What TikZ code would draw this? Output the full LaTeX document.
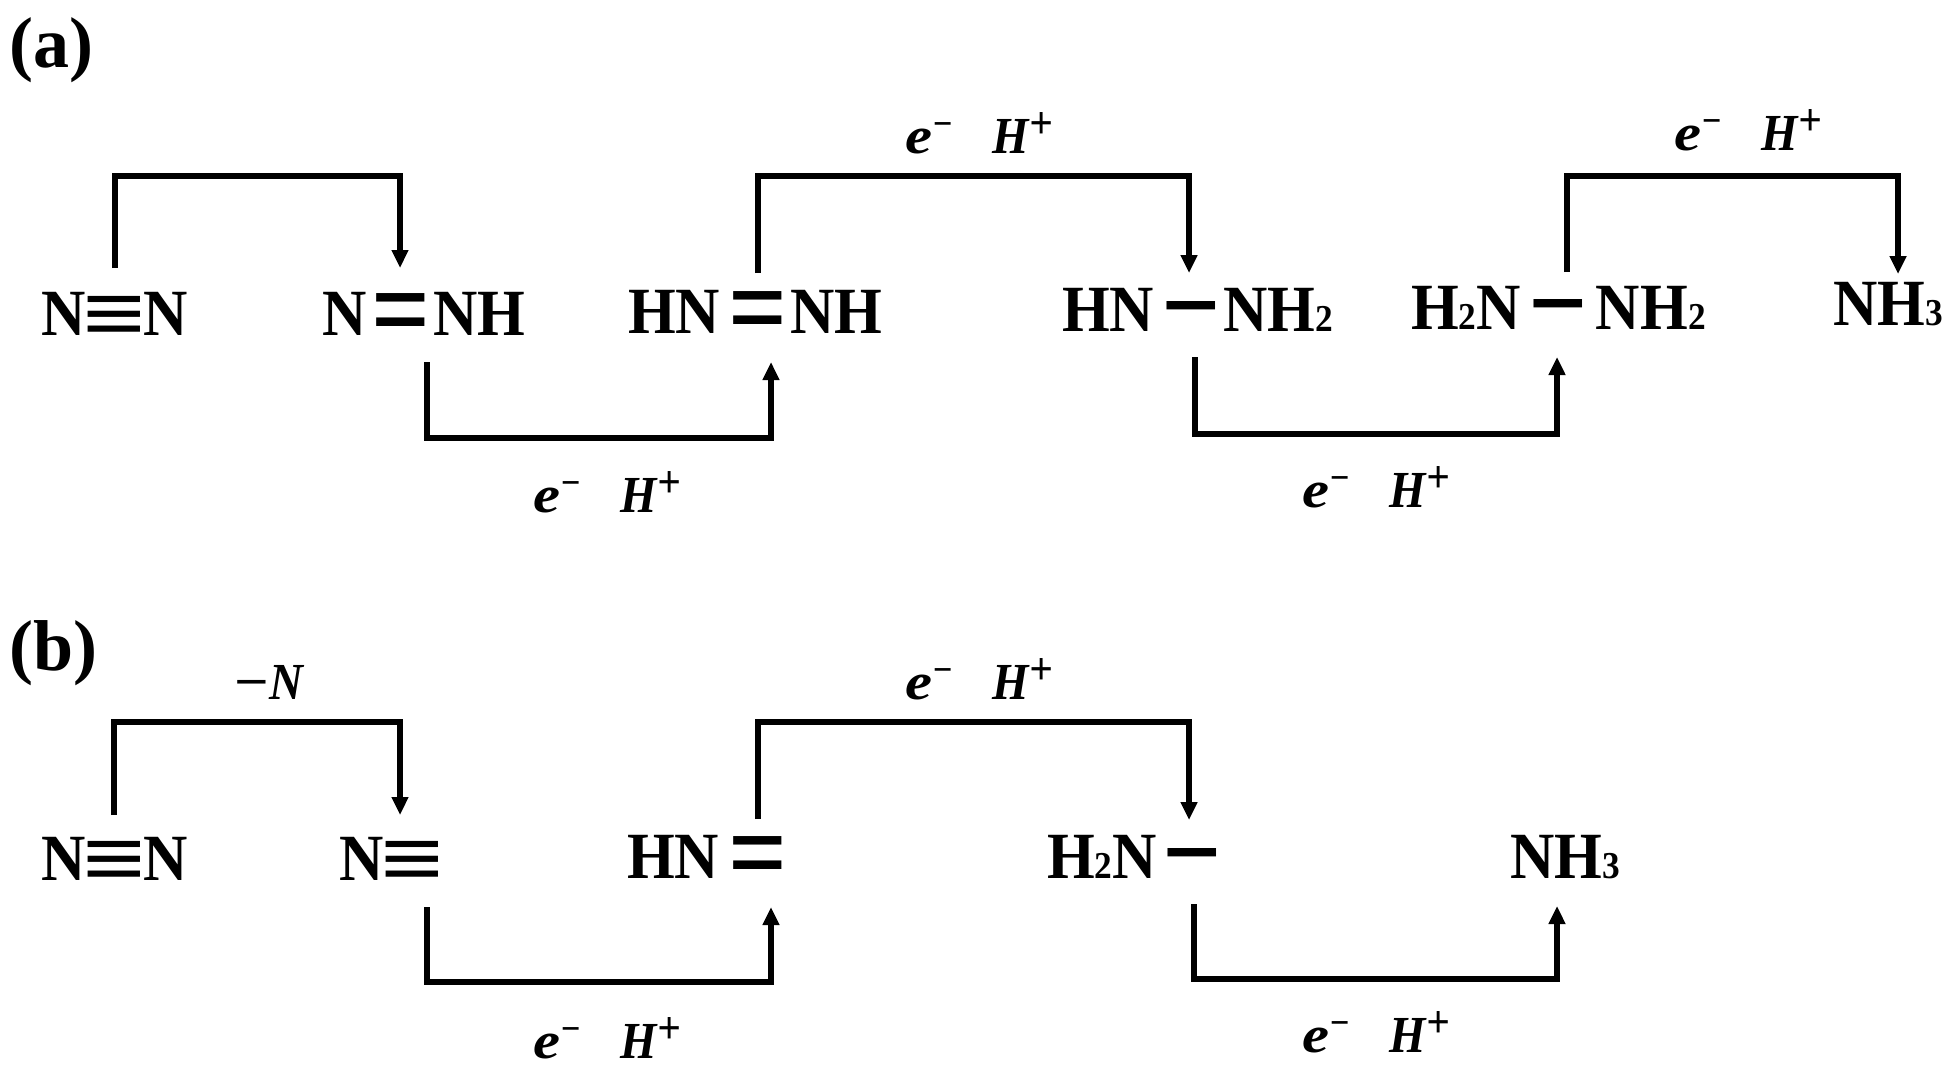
\documentclass[tikz,border=0pt]{standalone}
\usepackage{fontspec}
\usetikzlibrary{arrows.meta}
\setmainfont{Liberation Serif}
\newfontfamily\molf[FakeStretch=0.93]{Liberation Serif}
\newfontfamily\lblf[FakeStretch=0.9]{Liberation Serif}
\newfontfamily\bondf{Liberation Serif}
\newcommand\bondD{\makebox[52pt][c]{\raisebox{-15pt}{\bondf\fontsize{122}{122}\selectfont\scalebox{.85}[1]{=}}}}
\newcommand\bondT{\makebox[52pt][c]{\raisebox{-8pt}{\bondf\fontsize{88}{88}\selectfont\scalebox{1.28}[1]{≡}}}}
\newcommand\bondS{\makebox[52pt][c]{\raisebox{-14pt}{\bondf\fontsize{120}{120}\selectfont\scalebox{.87}[1]{−}}}}
\newcommand\sbs[1]{{\fontsize{38}{38}\selectfont #1}}
\newcommand\eh{\lblf\fontsize{52}{52}\selectfont\bfseries\itshape \scalebox{1.3}[1]{e}\raisebox{17pt}{\fontsize{38}{38}\selectfont −}\kern 40pt H\raisebox{15pt}{\fontsize{46}{46}\selectfont +}}
\tikzset{
  mol/.style={anchor=base west,inner sep=0pt,font=\molf\bfseries\fontsize{66}{66}\selectfont},
  lbl/.style={anchor=base,inner sep=0pt},
  tag/.style={anchor=base west,inner sep=0pt,font=\bfseries\fontsize{72}{72}\selectfont},
  conn/.style={line width=5.2pt,line cap=butt,line join=miter,-{Triangle[length=18pt,width=16pt]}}
}
\begin{document}
\begin{tikzpicture}[x=1pt,y=-1pt]
\useasboundingbox[fill=white] (0,0) rectangle (1955,1066);
% panel tags
\node[tag] (ta) at (9,67) {(a)};
\node[tag] (tb) at (9,670) {(b)};
% panel a molecules
\node[mol] (a1) at (41,335) {N\kern3pt\bondT\kern3ptN};
\node[mol] (a2) at (322,335) {N\kern9pt\bondD\kern6ptNH};
\node[mol] (a3) at (628,333) {HN\kern12pt\bondD\kern6ptNH};
\node[mol] (a4) at (1062,331) {HN\kern11pt\bondS\kern6ptNH\sbs{2}};
\node[mol] (a5) at (1411,329) {H\sbs{2}N\kern11pt\bondS\kern12ptNH\sbs{2}};
\node[mol] (a6) at (1833,325) {NH\sbs{3}};
% panel b molecules
\node[mol] (b1) at (41,880) {N\kern3pt\bondT\kern3ptN};
\node[mol] (b2) at (339,880) {N\kern3pt\bondT};
\node[mol] (b3) at (627,878) {HN\kern13pt\bondD};
\node[mol] (b4) at (1047,878) {H\sbs{2}N\kern9pt\bondS};
\node[mol] (b5) at (1510,878) {NH\sbs{3}};
% labels
\node[lbl] (la1) at (979,153) {\eh};
\node[lbl] (la2) at (1748,150) {\eh};
\node[lbl] (la3) at (607,512) {\eh};
\node[lbl] (la4) at (1376,507) {\eh};
\node[lbl] (lb1) at (979,699) {\eh};
\node[lbl] (lb2) at (607,1058) {\eh};
\node[lbl] (lb3) at (1376,1052) {\eh};
\node[lbl] (lb4) at (269,699) {\lblf\fontsize{52}{52}\selectfont\bfseries\itshape{\upshape\scalebox{1.3}[1]{−}}N};
% connector ends
\coordinate (a1s) at (115,268); \coordinate (a1e) at (400,268);
\coordinate (a2s) at (427,362); \coordinate (a2e) at (771,362);
\coordinate (a3s) at (758,273); \coordinate (a3e) at (1189,273);
\coordinate (a4s) at (1195,357); \coordinate (a4e) at (1557,357);
\coordinate (a5s) at (1567,272); \coordinate (a5e) at (1898,274);
\coordinate (b1s) at (114,815); \coordinate (b1e) at (400,815);
\coordinate (b2s) at (427,907); \coordinate (b2e) at (771,907);
\coordinate (b3s) at (758,819); \coordinate (b3e) at (1189,820);
\coordinate (b4s) at (1194,904); \coordinate (b4e) at (1557,906);
% connectors
\draw[conn] (a1s) -- (a1s |- 0,176) -- (a1e |- 0,176) -- (a1e);
\draw[conn] (a2s) -- (a2s |- 0,438) -- (a2e |- 0,438) -- (a2e);
\draw[conn] (a3s) -- (a3s |- 0,176) -- (a3e |- 0,176) -- (a3e);
\draw[conn] (a4s) -- (a4s |- 0,434) -- (a4e |- 0,434) -- (a4e);
\draw[conn] (a5s) -- (a5s |- 0,176) -- (a5e |- 0,176) -- (a5e);
\draw[conn] (b1s) -- (b1s |- 0,722) -- (b1e |- 0,722) -- (b1e);
\draw[conn] (b2s) -- (b2s |- 0,982) -- (b2e |- 0,982) -- (b2e);
\draw[conn] (b3s) -- (b3s |- 0,722) -- (b3e |- 0,722) -- (b3e);
\draw[conn] (b4s) -- (b4s |- 0,979) -- (b4e |- 0,979) -- (b4e);
\end{tikzpicture}
\end{document}
